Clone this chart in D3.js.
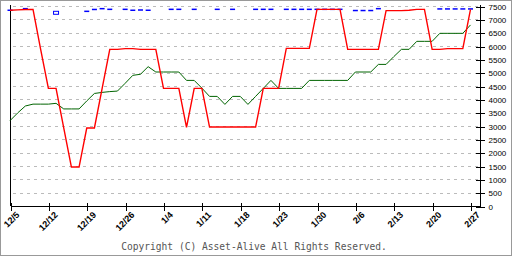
<!DOCTYPE html>
<html>
<head>
<meta charset="utf-8">
<script src="https://cdn.jsdelivr.net/npm/d3@7"></script>
<style>
  body { margin: 0; background: #fff; }
  svg { display: block; }
</style>
</head>
<body>
<script>
// tick labels, one every 5 trading days
const tickLabels = ['12/5', '12/12', '12/19', '12/26', '1/4', '1/11', '1/18',
    '1/23', '1/30', '2/6', '2/13', '2/20', '2/27'];
const tickEvery = 5;

// red series (daily)
const redValues = [7340, 7355, 7370, 7370, 5860, 4410, 4410, 2930, 1460, 1460,
    2925, 2925, 4400, 5875, 5875, 5900, 5900, 5875, 5875, 5875,
    4410, 4410, 4410, 2950, 4410, 4410, 2960, 2960, 2960, 2960,
    2960, 2960, 2960, 4410, 4410, 4410, 5910, 5910, 5910, 5910,
    7375, 7375, 7375, 7375, 5875, 5875, 5875, 5875, 5875, 7325,
    7325, 7325, 7340, 7375, 7375, 5875, 5875, 5900, 5900, 5900, 7375];

// green series (daily)
const greenValues = [3200, 3490, 3750, 3820, 3820, 3820, 3850, 3640, 3640, 3640,
    3940, 4220, 4260, 4290, 4310, 4600, 4900, 4940, 5225, 5025,
    5025, 5025, 5025, 4710, 4710, 4420, 4110, 4110, 3810, 4110,
    4110, 3810, 4110, 4410, 4710, 4410, 4410, 4410, 4410, 4710,
    4710, 4710, 4710, 4710, 4710, 5025, 5025, 5025, 5310, 5310,
    5600, 5875, 5875, 6175, 6175, 6175, 6475, 6475, 6475, 6475, 6790];

// blue marks (daily, null = none)
const blueValues = [7340, null, 7400, null, null, null, null, null, null, null,
    7300, 7370, 7400, 7375, null, 7375, 7340, 7350, 7340, null,
    null, 7375, 7375, null, 7375, null, null, 7375, null, 7375,
    null, null, 7375, 7375, 7375, null, 7375, 7375, 7375, 7375,
    7375, 7375, 7375, 7375, null, 7330, 7330, 7330, 7400, null,
    null, null, null, null, null, null, 7390, 7390, 7390, 7390, 7390];

// hollow square marker
const markerDays = [6];
const markerValues = [7245];

const yTicks = d3.range(0, 7501, 500);

const width = 512, height = 256;

const x = d3.scaleLinear()
    .domain([0, redValues.length - 1])
    .range([10, 470.5]);

const y = d3.scaleLinear()
    .domain([0, 7500])
    .range([206, 6]);

const svg = d3.select('body').append('svg')
    .attr('width', width)
    .attr('height', height);

// outer frame
svg.append('rect')
    .attr('x', 0.5).attr('y', 0.5)
    .attr('width', width - 1).attr('height', height - 1)
    .attr('fill', '#fff')
    .attr('stroke', '#999');

// grid
svg.append('g')
    .selectAll('line')
    .data(yTicks.filter(d => d > 0))
    .join('line')
    .attr('x1', 13).attr('x2', 478)
    .attr('y1', d => Math.round(y(d)) + 0.5)
    .attr('y2', d => Math.round(y(d)) + 0.5)
    .attr('stroke', '#bbb')
    .attr('stroke-dasharray', '3,4')
    .attr('shape-rendering', 'crispEdges');

// left axis line
svg.append('line')
    .attr('x1', 10.5).attr('x2', 10.5)
    .attr('y1', 5).attr('y2', 206)
    .attr('stroke', '#000')
    .attr('shape-rendering', 'crispEdges');

// right axis
const yAxis = svg.append('g')
    .attr('transform', 'translate(480.5,0.5)')
    .call(d3.axisRight(y).tickValues(yTicks).tickSize(4).tickPadding(5).tickFormat(d3.format('d')));
yAxis.select('.domain').attr('d', 'M0,4.5V205.5');
yAxis.selectAll('.tick line').attr('x1', -5).attr('x2', 4);
yAxis.selectAll('text')
    .attr('x', 8)
    .style('font-family', '"Liberation Sans", Arial, sans-serif')
    .style('font-size', '8px')
    .attr('fill', '#000');
yAxis.attr('shape-rendering', 'crispEdges');

// bottom axis
const tickIdx = tickLabels.map((_, i) => i * tickEvery);
const xAxis = svg.append('g')
    .attr('transform', 'translate(0.5,206.5)')
    .call(d3.axisBottom(x).tickValues(tickIdx).tickSize(4).tickFormat((d, i) => tickLabels[i]));
xAxis.select('.domain').attr('d', 'M10,0H480');
xAxis.selectAll('.tick line').attr('y1', -4).attr('y2', 4);
xAxis.selectAll('text')
    .attr('text-anchor', 'end')
    .attr('dy', null)
    .attr('y', 0)
    .attr('transform', 'translate(9,9) rotate(-45)')
    .style('font-family', '"Liberation Sans", Arial, sans-serif')
    .style('font-size', '9px')
    .style('font-weight', 'bold')
    .attr('fill', '#000');
xAxis.attr('shape-rendering', 'crispEdges');

const line = d3.line()
    .x((d, i) => x(i))
    .y(d => y(d));

// blue marks
svg.append('g')
    .selectAll('line')
    .data(blueValues.map((v, i) => ({ v, i })).filter(d => d.v !== null))
    .join('line')
    .attr('x1', d => x(d.i) - 2.5)
    .attr('x2', d => x(d.i) + 2.5)
    .attr('y1', d => y(d.v))
    .attr('y2', d => y(d.v))
    .attr('stroke', '#0000ff')
    .attr('stroke-width', 1.5);

svg.append('g')
    .selectAll('rect')
    .data(markerDays)
    .join('rect')
    .attr('x', (d) => x(d) - 2.5)
    .attr('y', (d, i) => y(markerValues[i]) - 1.5)
    .attr('width', 5).attr('height', 3)
    .attr('fill', 'none')
    .attr('stroke', '#0000ff');

svg.append('path')
    .datum(greenValues)
    .attr('d', line)
    .attr('fill', 'none')
    .attr('stroke', '#006400')
    .attr('stroke-width', 1);

svg.append('path')
    .datum(redValues)
    .attr('d', line)
    .attr('fill', 'none')
    .attr('stroke', '#ff0000')
    .attr('stroke-width', 1.4);

svg.append('text')
    .attr('x', 254)
    .attr('y', 250)
    .attr('text-anchor', 'middle')
    .style('font-family', '"DejaVu Sans Mono", monospace')
    .style('font-size', '9.6px')
    .attr('fill', '#555')
    .text('Copyright (C) Asset-Alive All Rights Reserved.');
</script>
</body>
</html>
